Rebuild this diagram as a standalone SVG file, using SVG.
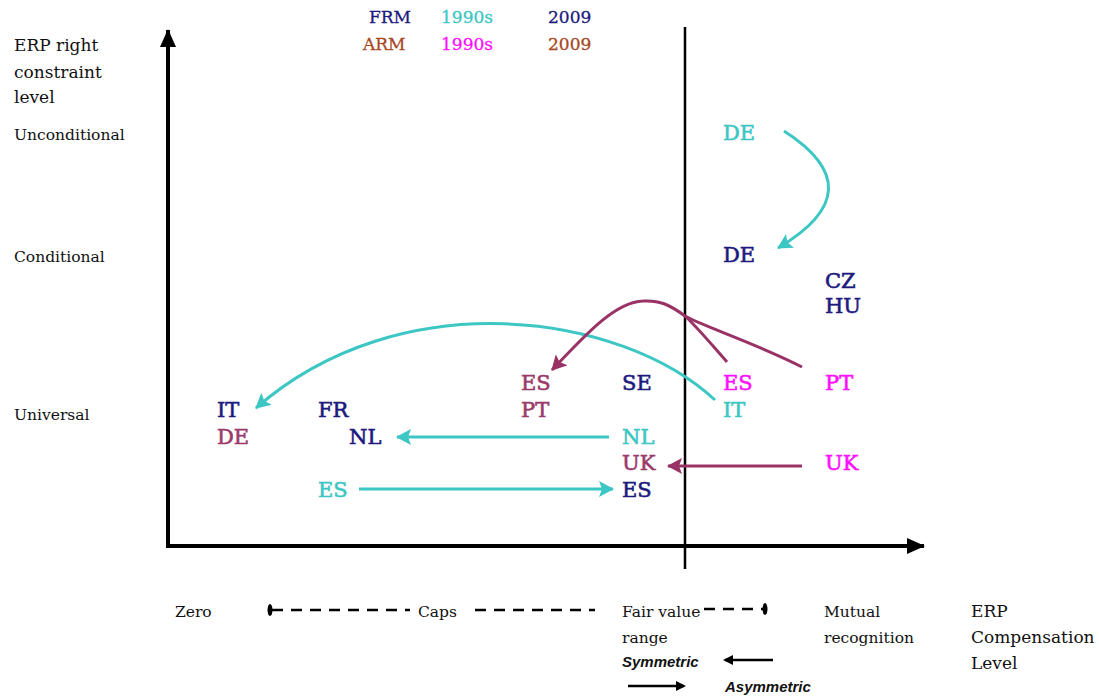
<svg xmlns="http://www.w3.org/2000/svg" width="1099" height="696" viewBox="0 0 1099 696">
<style>
text{font-family:"DejaVu Serif","Liberation Serif",serif;}
.lab{font-size:15.5px;fill:#111;}
.big{font-size:17px;fill:#111;}
.node{font-size:21px;stroke-width:0.6px;}
.it{font-family:"Liberation Sans",Arial,sans-serif;font-style:italic;font-weight:bold;font-size:15px;fill:#111;}
.navy{fill:#1c1a7e;stroke:#1c1a7e;}
.cyan{fill:#3cc6c4;stroke:#3cc6c4;}
.purple{fill:#9a3a6a;stroke:#9a3a6a;}
.mag{fill:#ff10ff;stroke:#ff10ff;}
.brown{fill:#a8471e;stroke:#a8471e;}
.leg{stroke-width:0.3px;}
.ax{stroke:#000;stroke-width:4;fill:none;}
.dash{stroke:#000;stroke-width:2.5;stroke-dasharray:11 8;fill:none;}
.cc{stroke:#3cc6c4;stroke-width:3;fill:none;}
.pc{stroke:#993366;stroke-width:3;fill:none;}
</style>
<defs>
<marker id="ak" markerWidth="10" markerHeight="10" refX="8" refY="5" orient="auto" markerUnits="userSpaceOnUse"><path d="M0,0 L10,5 L0,10 Z" fill="#000"/></marker>
<marker id="akb" markerWidth="20" markerHeight="20" refX="17" refY="10" orient="auto" markerUnits="userSpaceOnUse"><path d="M0,2 L18,10 L0,18 Z" fill="#000"/></marker>
<marker id="ac" markerWidth="16" markerHeight="16" refX="14" refY="8" orient="auto" markerUnits="userSpaceOnUse"><path d="M0,0 L15,8 L0,16 L3,8 Z" fill="#3cc6c4"/></marker>
<marker id="ap" markerWidth="16" markerHeight="16" refX="14" refY="8" orient="auto" markerUnits="userSpaceOnUse"><path d="M0,0 L15,8 L0,16 L3,8 Z" fill="#993366"/></marker>
</defs>

<g id="axes">
<line class="ax" x1="168" y1="548" x2="168" y2="30" marker-end="url(#akb)"/>
<line class="ax" x1="166" y1="546" x2="924" y2="546" marker-end="url(#akb)"/>
<line x1="685" y1="27" x2="685" y2="569" stroke="#000" stroke-width="2.5"/>
</g>

<g id="legend">
<text class="big leg navy" x="369" y="23">FRM</text>
<text class="big leg cyan" x="441" y="23">1990s</text>
<text class="big leg navy" x="548" y="23">2009</text>
<text class="big leg brown" x="363" y="50">ARM</text>
<text class="big leg mag" x="441" y="50">1990s</text>
<text class="big leg brown" x="548" y="50">2009</text>
</g>

<g id="y-labels">
<text class="big" x="14" y="51">ERP right</text>
<text class="big" x="14" y="78">constraint</text>
<text class="big" x="14" y="103">level</text>
<text class="lab" x="14" y="140" font-size="16">Unconditional</text>
<text class="lab" x="14" y="262" font-size="16">Conditional</text>
<text class="lab" x="14" y="420" font-size="16">Universal</text>
</g>

<g id="x-labels">
<text class="lab" x="175" y="617">Zero</text>
<ellipse cx="270" cy="610" rx="2.5" ry="6" fill="#000"/>
<line class="dash" x1="272" y1="610" x2="410" y2="610"/>
<text class="lab" x="418" y="617">Caps</text>
<line class="dash" x1="475" y1="610" x2="595" y2="610"/>
<text class="lab" x="622" y="617">Fair value</text>
<text class="lab" x="622" y="643">range</text>
<line class="dash" x1="704" y1="609" x2="763" y2="609"/>
<ellipse cx="765" cy="609" rx="2.5" ry="6" fill="#000"/>
<text class="lab" x="824" y="617">Mutual</text>
<text class="lab" x="824" y="643">recognition</text>
<text class="big" x="971" y="617">ERP</text>
<text class="big" x="971" y="643">Compensation</text>
<text class="big" x="971" y="669">Level</text>
<text class="it" x="622" y="667">Symmetric</text>
<line x1="773" y1="660" x2="725" y2="660" stroke="#000" stroke-width="2.5" marker-end="url(#ak)"/>
<line x1="628" y1="686" x2="684" y2="686" stroke="#000" stroke-width="2.5" marker-end="url(#ak)"/>
<text class="it" x="725" y="692">Asymmetric</text>
</g>

<g id="connectors">
<path class="cc" d="M784,131 Q876,190 778,248" marker-end="url(#ac)"/>
<path class="cc" d="M715,400 C620,312 400,282 256,408" marker-end="url(#ac)"/>
<path class="pc" d="M802,367 C760,345 700,325 685,316 C670,305 660,300 643,301 C615,302 585,335 552,370" marker-end="url(#ap)"/>
<path class="pc" d="M727,362 C712,345 698,328 685,316"/>
<line class="cc" x1="609" y1="437" x2="397" y2="437" marker-end="url(#ac)"/>
<line class="pc" x1="802" y1="466" x2="668" y2="466" marker-end="url(#ap)"/>
<line class="cc" x1="359" y1="489" x2="613" y2="489" marker-end="url(#ac)"/>
</g>

<g id="n-DE-1990s"><text class="node cyan" x="723" y="140">DE</text></g>
<g id="n-DE-2009"><text class="node navy" x="723" y="262">DE</text></g>
<g id="n-CZ-HU"><text class="node navy" x="825" y="288">CZ</text><text class="node navy" x="825" y="313">HU</text></g>
<g id="n-ES-PT-arm2009"><text class="node purple" x="521" y="390">ES</text><text class="node purple" x="521" y="417">PT</text></g>
<g id="n-SE"><text class="node navy" x="622" y="390">SE</text></g>
<g id="n-ES-IT-1990s"><text class="node mag" x="723" y="390">ES</text><text class="node cyan" x="723" y="417">IT</text></g>
<g id="n-PT-1990s"><text class="node mag" x="825" y="390">PT</text></g>
<g id="n-IT-DE"><text class="node navy" x="217" y="417">IT</text><text class="node purple" x="217" y="444">DE</text></g>
<g id="n-FR-NL"><text class="node navy" x="318" y="417">FR</text><text class="node navy" x="349" y="444">NL</text></g>
<g id="n-NL-UK-ES"><text class="node cyan" x="622" y="444">NL</text><text class="node purple" x="622" y="470">UK</text><text class="node navy" x="622" y="497">ES</text></g>
<g id="n-UK-1990s"><text class="node mag" x="825" y="470">UK</text></g>
<g id="n-ES-cyan"><text class="node cyan" x="318" y="497">ES</text></g>
</svg>
